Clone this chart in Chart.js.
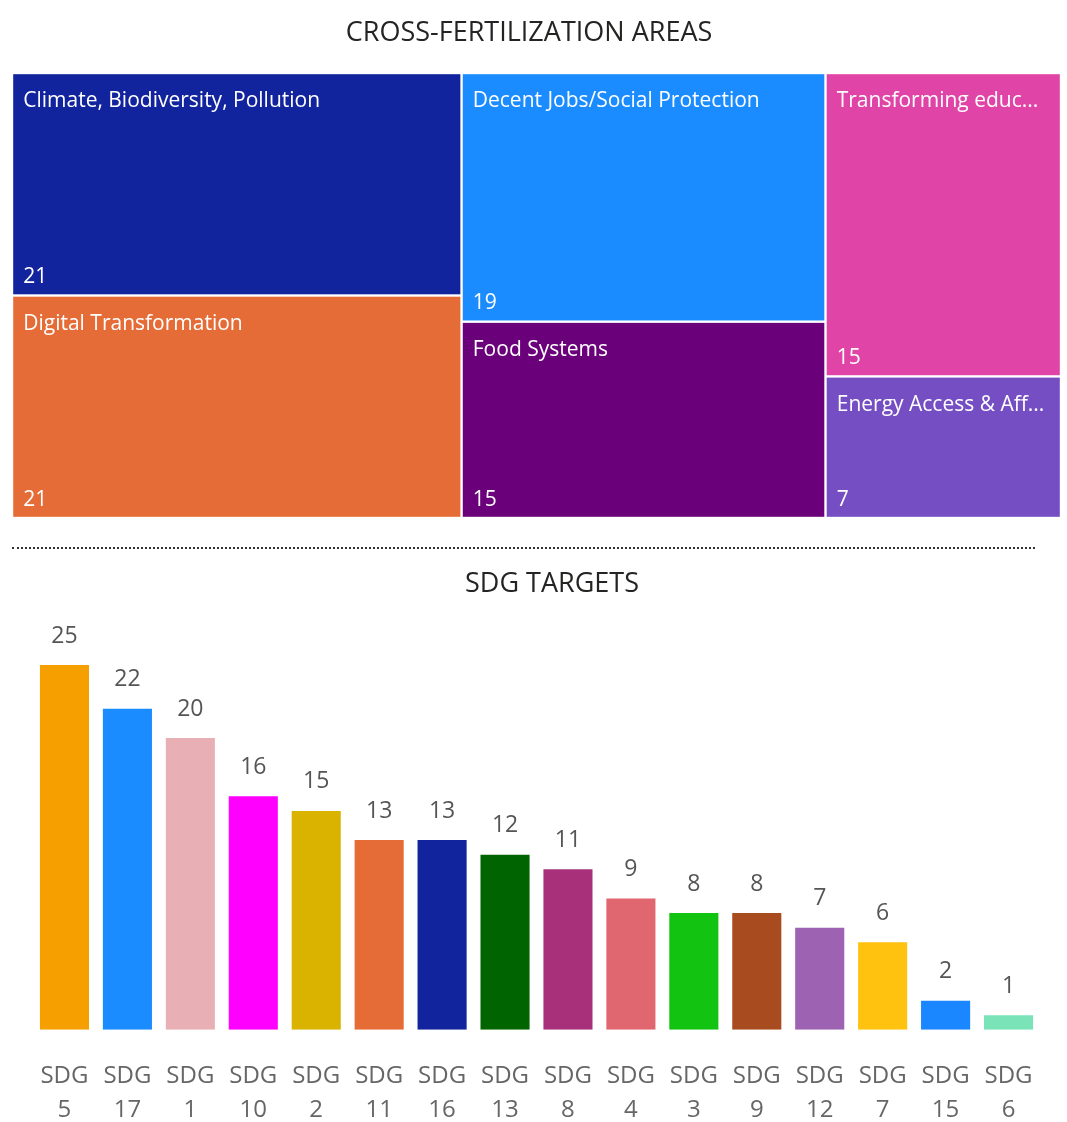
<!DOCTYPE html>
<html lang="en">
<head>
<meta charset="UTF-8">
<title>Cross-fertilization areas / SDG targets</title>
<script src="https://cdn.jsdelivr.net/npm/chart.js@4"></script>
<style>
* { margin: 0; padding: 0; box-sizing: border-box; }
body { background: #fff; width: 1067px; height: 1122px; overflow: hidden; font-family: 'Open Sans', sans-serif; }
#top { position: absolute; left: 0; top: 0; width: 1067px; height: 540px; }
#sep { position: absolute; left: 12px; top: 547px; width: 1023px; border-top: 2px dotted #333; }
#bottom { position: absolute; left: 0; top: 555px; width: 1067px; height: 603px; }
</style>
</head>
<body>
<div id="top"><canvas id="treemap"></canvas></div>
<div id="sep"></div>
<div id="bottom"><canvas id="bars"></canvas></div>
<script>
// treemap data
const areaNames = ['Climate, Biodiversity, Pollution', 'Digital Transformation', 'Decent Jobs/Social Protection', 'Food Systems', 'Transforming education', 'Energy Access & Affordability'];
const areaValues = [21, 21, 19, 15, 15, 7];
const areaColors = ['#12239E', '#E66C37', '#1A8CFF', '#6B007B', '#E044A7', '#744EC2'];

// bar data
const sdgLabels = ['SDG 5', 'SDG 17', 'SDG 1', 'SDG 10', 'SDG 2', 'SDG 11', 'SDG 16', 'SDG 13', 'SDG 8', 'SDG 4', 'SDG 3', 'SDG 9', 'SDG 12', 'SDG 7', 'SDG 15', 'SDG 6'];
const sdgValues = [25, 22, 20, 16, 15, 13, 13, 12, 11, 9, 8, 8, 7, 6, 2, 1];
const sdgColors = ['#F5A000', '#1A8CFF', '#E8AFB5', '#FF00FF', '#D9B300', '#E66C37', '#12239E', '#006400', '#A8307B', '#E06670', '#12C312', '#A84C20', '#9E62B3', '#FFC20E', '#1A86FF', '#7AE3B8'];

Chart.defaults.font.family = "'Open Sans', sans-serif";

const total = areaValues.reduce((a, b) => a + b, 0);
const perColumn = 2;

// slice columns, then dice each column (same as the source layout)
function treemapCells() {
  const cells = [];
  let x = 0;
  for (let i = 0; i < areaValues.length; i += perColumn) {
    const idx = [];
    for (let j = i; j < Math.min(i + perColumn, areaValues.length); j++) idx.push(j);
    const colSum = idx.reduce((s, j) => s + areaValues[j], 0);
    let y = 0;
    idx.forEach(j => {
      cells.push({ i: j, x0: x, x1: x + colSum, y0: y, y1: y + areaValues[j] / colSum });
      y += areaValues[j] / colSum;
    });
    x += colSum;
  }
  return cells;
}

function fitText(ctx, text, maxW) {
  if (ctx.measureText(text).width <= maxW) return text;
  let t = text;
  while (t.length > 1 && ctx.measureText(t + '...').width > maxW) t = t.slice(0, -1);
  return t.replace(/\s+$/, '') + '...';
}

// title drawn at a chosen spot (the source centres it off the plot centre)
const headTitle = {
  id: 'headTitle',
  afterDraw(chart, args, opts) {
    const ctx = chart.ctx;
    ctx.save();
    ctx.fillStyle = '#252423';
    ctx.font = "27px 'Open Sans', sans-serif";
    ctx.textAlign = 'center';
    ctx.textBaseline = 'middle';
    ctx.fillText(opts.text, opts.x, opts.y);
    ctx.restore();
  }
};

const treemapPlugin = {
  id: 'treemapCells',
  afterDatasetsDraw(chart) {
    const { ctx, scales: { x, y } } = chart;
    const gap = 1.2;
    ctx.save();
    treemapCells().forEach(c => {
      const l = x.getPixelForValue(c.x0) + gap, r = x.getPixelForValue(c.x1) - gap;
      const t = y.getPixelForValue(c.y0) + gap, b = y.getPixelForValue(c.y1) - gap;
      ctx.fillStyle = areaColors[c.i];
      ctx.fillRect(l, t, r - l, b - t);
      ctx.fillStyle = '#fff';
      ctx.font = "21px 'Open Sans', sans-serif";
      ctx.textBaseline = 'alphabetic';
      ctx.textAlign = 'left';
      ctx.fillText(fitText(ctx, areaNames[c.i], r - l - 24), l + 10, t + 33);
      ctx.fillText(String(areaValues[c.i]), l + 10, b - 11);
    });
    ctx.restore();
  }
};

new Chart(document.getElementById('treemap'), {
  type: 'scatter',
  data: { datasets: [{ data: [], pointRadius: 0 }] },
  options: {
    responsive: true,
    maintainAspectRatio: false,
    animation: false,
    layout: { padding: { left: 12, right: 6, top: 73, bottom: 22 } },
    scales: {
      x: { type: 'linear', min: 0, max: total, display: false },
      y: { type: 'linear', min: 0, max: 1, reverse: true, display: false }
    },
    plugins: {
      legend: { display: false },
      tooltip: { enabled: false },
      title: { display: false },
      headTitle: { text: 'CROSS-FERTILIZATION AREAS', x: 529, y: 33 }
    }
  },
  plugins: [treemapPlugin, headTitle]
});

const valueLabels = {
  id: 'valueLabels',
  afterDatasetsDraw(chart) {
    const { ctx } = chart;
    const meta = chart.getDatasetMeta(0);
    ctx.save();
    ctx.fillStyle = '#555';
    ctx.font = "23px 'Open Sans', sans-serif";
    ctx.textAlign = 'center';
    ctx.textBaseline = 'middle';
    meta.data.forEach((bar, i) => {
      ctx.fillText(String(sdgValues[i]), bar.x, bar.y - 29);
    });
    ctx.restore();
  }
};

new Chart(document.getElementById('bars'), {
  type: 'bar',
  data: {
    labels: sdgLabels,
    datasets: [{ data: sdgValues, backgroundColor: sdgColors, borderWidth: 0, categoryPercentage: 1, barPercentage: 0.78 }]
  },
  options: {
    responsive: true,
    maintainAspectRatio: false,
    animation: false,
    layout: { padding: { left: 33, right: 27, top: 110, bottom: 2 } },
    scales: {
      x: {
        grid: { display: false, drawTicks: false },
        border: { display: false },
        ticks: {
          color: '#666',
          font: { size: 24, lineHeight: 1.42 },
          padding: 29,
          maxRotation: 0,
          autoSkip: false,
          callback: function (v) { return sdgLabels[v].split(' '); }
        }
      },
      y: { display: false, min: 0, max: Math.max(...sdgValues) }
    },
    plugins: {
      legend: { display: false },
      tooltip: { enabled: false },
      title: { display: false },
      headTitle: { text: 'SDG TARGETS', x: 552, y: 29 }
    }
  },
  plugins: [valueLabels, headTitle]
});
</script>
</body>
</html>
